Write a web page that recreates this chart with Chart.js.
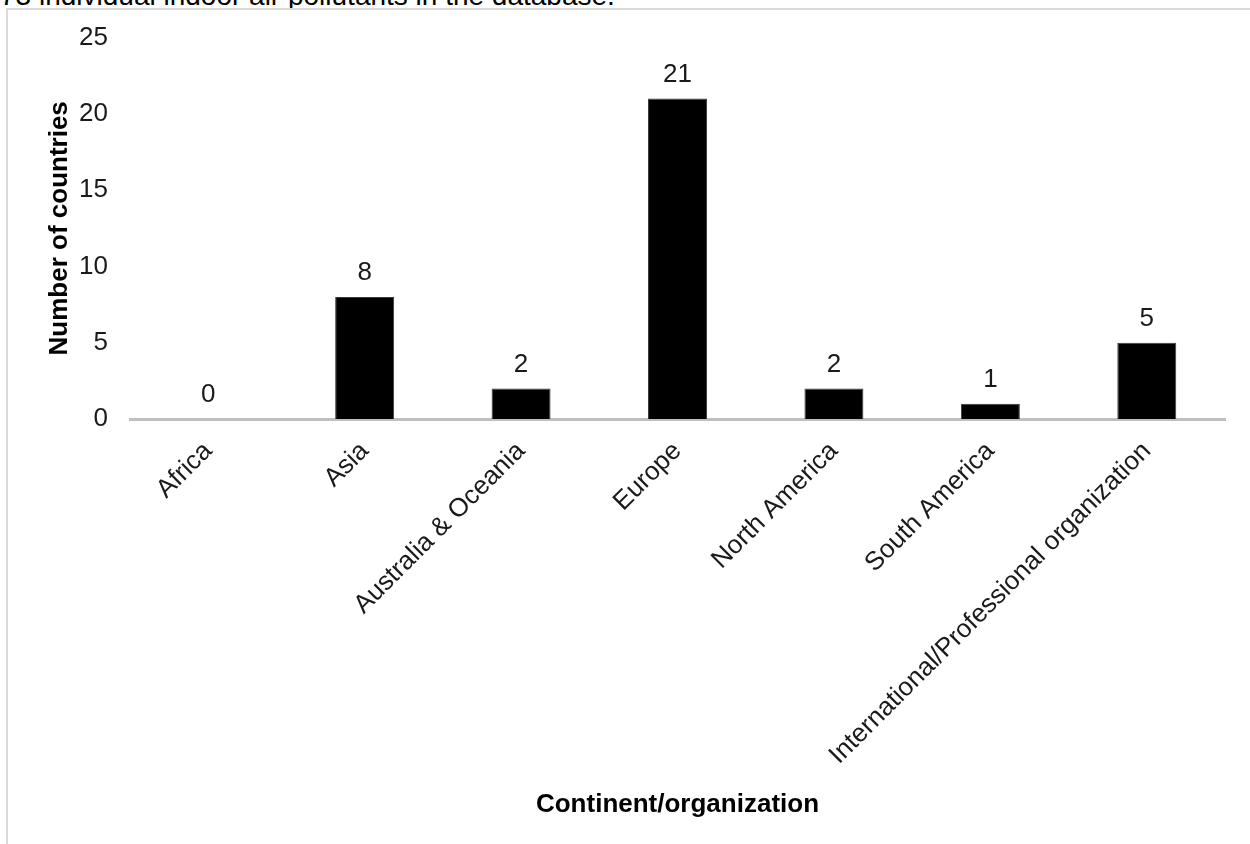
<!DOCTYPE html>
<html>
<head>
<meta charset="utf-8">
<script src="https://cdn.jsdelivr.net/npm/chart.js@4.4.1/dist/chart.umd.min.js"></script>
<style>
  html, body { margin:0; padding:0; width:1250px; height:844px; overflow:hidden; background:#fff; }
  #caption { position:absolute; left:0px; top:-18px; font:28px "Liberation Sans", Arial, sans-serif; line-height:28px; color:#000; white-space:nowrap; }
  #frame { position:absolute; left:6px; top:8px; width:1300px; height:900px; border:2px solid #d9d9d9; box-sizing:border-box; background:#fff; }
  #wrap { position:absolute; left:0; top:0; width:1250px; height:844px; }
</style>
</head>
<body>
<div id="caption">73 individual indoor air pollutants in the database.</div>
<div id="frame"></div>
<div id="wrap"><canvas id="c" width="1250" height="844"></canvas></div>
<script>
const categories = ["Africa", "Asia", "Australia & Oceania", "Europe", "North America", "South America", "International/Professional organization"];
const countries = [0, 8, 2, 21, 2, 1, 5];
const yTicks = [0, 5, 10, 15, 20, 25];
const xTitle = "Continent/organization";
const yTitle = "Number of countries";

const FONT = '"Liberation Sans", Arial, sans-serif';

const valueLabels = {
  id: 'valueLabels',
  afterDatasetsDraw(chart) {
    const ctx = chart.ctx;
    const meta = chart.getDatasetMeta(0);
    ctx.save();
    ctx.font = '26px ' + FONT;
    ctx.fillStyle = '#1a1a1a';
    ctx.textAlign = 'center';
    ctx.textBaseline = 'middle';
    meta.data.forEach((bar, i) => {
      ctx.fillText(String(chart.data.datasets[0].data[i]), bar.x, bar.y - 24);
    });
    ctx.restore();
  }
};

new Chart(document.getElementById('c'), {
  type: 'bar',
  data: {
    labels: categories,
    datasets: [{
      data: countries,
      backgroundColor: '#000000',
      borderColor: '#3a3a3a',
      borderWidth: 1,
      borderSkipped: 'bottom',
      barPercentage: 0.377,
      categoryPercentage: 1.0
    }]
  },
  options: {
    responsive: false,
    animation: false,
    layout: { padding: { left: 0, top: 37, right: 25, bottom: 0 } },
    plugins: { legend: { display: false }, tooltip: { enabled: false } },
    scales: {
      x: {
        grid: { display: false, drawTicks: false },
        border: { display: true, color: '#bfbfbf', width: 3 },
        ticks: {
          color: '#1a1a1a',
          font: { family: FONT, size: 26 },
          minRotation: 45, maxRotation: 45,
          padding: 17,
          autoSkip: false
        },
        title: {
          display: true, text: xTitle, color: '#000',
          font: { family: FONT, size: 26, weight: 'bold' },
          padding: { top: 0, bottom: 24 }
        },
        afterFit(scale) { scale.height = 425; }
      },
      y: {
        min: 0, max: 25,
        grid: { display: false, drawTicks: false },
        border: { display: false },
        afterBuildTicks(scale) { scale.ticks = yTicks.map(v => ({ value: v })); },
        ticks: {
          color: '#1a1a1a',
          font: { family: FONT, size: 26 },
          padding: 22
        },
        title: {
          display: true, text: yTitle, color: '#000',
          font: { family: FONT, size: 26, weight: 'bold' },
          padding: { top: 44, bottom: 0 }
        },
        afterFit(scale) { scale.width = 130; }
      }
    }
  },
  plugins: [valueLabels]
});
</script>
</body>
</html>
